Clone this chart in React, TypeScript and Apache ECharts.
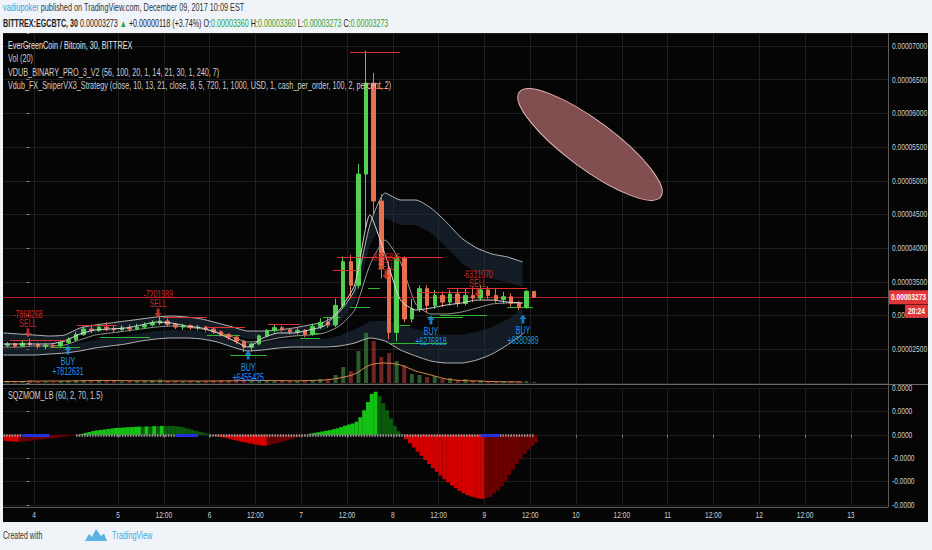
import React, { useEffect, useRef } from "react";
import * as echarts from "echarts";

// ---------------- header / titles ----------------
const headerAuthor = "vadiupoker";
const headerPublished = " published on TradingView.com, December 09, 2017 10:09 EST";
const symbolTitle = "BITTREX:EGCBTC, 30";
const lastText = "0.00003273";
const changeText = "+0.00000118 (+3.74%)";
const ohlcLabels = ["O:", "H:", "L:", "C:"];
const ohlcValues = ["0.00003360", "0.00003360", "0.00003273", "0.00003273"];
const legendLines = [
  "EverGreenCoin / Bitcoin, 30, BITTREX",
  "Vol (20)",
  "VDUB_BINARY_PRO_3_V2 (56, 100, 20, 1, 14, 21, 30, 1, 240, 7)",
  "Vdub_FX_SniperVX3_Strategy (close, 10, 13, 21, close, 8, 5, 720, 1, 1000, USD, 1, cash_per_order, 100, 2, percent, 2)",
];
const momentumTitle = "SQZMOM_LB (60, 2, 70, 1.5)";
const footerText = "Created with";
const footerBrand = "TradingView";

// ---------------- price data (satoshi, 2h candles, hours from Dec 4 00:00) ----------------
const candleStartHour = -6;
const candleStepHours = 2;
// [open, close, low, high]
const candleOHLC = [
  [2560, 2580, 2530, 2610], [2580, 2550, 2520, 2600], [2550, 2590, 2530, 2640], [2590, 2570, 2540, 2660],
  [2570, 2540, 2510, 2590], [2540, 2560, 2500, 2590], [2560, 2550, 2520, 2580], [2550, 2600, 2530, 2620],
  [2600, 2640, 2580, 2680], [2640, 2720, 2620, 2760], [2720, 2800, 2700, 2850], [2800, 2780, 2740, 2870],
  [2780, 2830, 2760, 2880], [2830, 2810, 2770, 2900], [2810, 2790, 2750, 2850], [2790, 2820, 2760, 2860],
  [2820, 2800, 2760, 2870], [2800, 2830, 2780, 2880], [2830, 2860, 2800, 2900], [2860, 2890, 2840, 2930],
  [2890, 2920, 2860, 2990], [2920, 2870, 2840, 2960], [2870, 2830, 2800, 2890], [2830, 2850, 2790, 2880],
  [2850, 2820, 2790, 2870], [2820, 2830, 2780, 2860], [2830, 2800, 2760, 2850], [2800, 2760, 2730, 2820],
  [2760, 2720, 2690, 2780], [2720, 2680, 2640, 2740], [2680, 2620, 2580, 2700], [2620, 2530, 2460, 2640],
  [2530, 2580, 2470, 2600], [2580, 2700, 2560, 2720], [2700, 2780, 2680, 2800], [2780, 2820, 2750, 2860],
  [2820, 2790, 2760, 2850], [2790, 2760, 2720, 2820], [2760, 2780, 2720, 2820], [2780, 2720, 2680, 2800],
  [2720, 2840, 2700, 2880], [2840, 2900, 2800, 2960], [2900, 2860, 2820, 2980], [2860, 3150, 2830, 3250],
  [3150, 3800, 3100, 3880], [3800, 3450, 3250, 3900], [3450, 5100, 3400, 5250], [5100, 6450, 4300, 6930],
  [6450, 4700, 4500, 6600], [4700, 3700, 3550, 4800], [3700, 2750, 2650, 3800], [2750, 3850, 2620, 3900],
  [3850, 2950, 2900, 3880], [2950, 3100, 2900, 3250], [3100, 3400, 3050, 3450], [3400, 3150, 3050, 3450],
  [3150, 3300, 3100, 3380], [3300, 3200, 3130, 3360], [3200, 3320, 3150, 3380], [3320, 3180, 3130, 3400],
  [3180, 3300, 3150, 3400], [3300, 3260, 3200, 3420], [3260, 3380, 3230, 3450], [3380, 3300, 3250, 3430],
  [3300, 3240, 3190, 3400], [3240, 3280, 3180, 3350], [3280, 3180, 3130, 3330], [3180, 3120, 3080, 3220],
  [3120, 3360, 3100, 3380], [3360, 3273, 3273, 3360],
];
const volumes = [
  2, 1.5, 2, 3, 1.5, 1.5, 1, 2, 2.5, 3, 3, 2, 2, 2.5, 2, 1.5, 2, 2, 2.5, 3,
  3.5, 2, 2, 1.5, 2, 2, 2, 2.5, 3, 3, 4, 3, 3.5, 3, 2, 2, 2.5, 2, 2,
  2, 3, 4, 3, 8, 16, 12, 32, 50, 42, 26, 30, 22, 18, 9, 8, 6, 7, 4, 5,
  3, 4, 2.5, 3, 2, 2, 1.5, 2, 1.5, 2, 1,
];

// indicator lines, every 4 hours
const lineStartHour = -6;
const lineStepHours = 4;
const upperBand = [2742, 2727, 2712, 2697, 2712, 2816, 2860, 2890, 2920, 2949, 2979, 2994, 2979, 2949, 2890, 2831, 2771, 2771, 2786, 2816, 2860, 2905, 3053, 3380, 4344, 4819, 4715, 4715, 4596, 4389, 4151, 4003, 3914, 3870, 3795];
const upperBandInner = [2622, 2607, 2592, 2577, 2592, 2696, 2740, 2770, 2800, 2829, 2859, 2874, 2859, 2829, 2770, 2711, 2651, 2651, 2666, 2696, 2740, 2785, 2903, 3180, 4044, 4449, 4345, 4345, 4226, 4019, 3781, 3633, 3544, 3500, 3425];
const lowerBand = [2415, 2415, 2415, 2430, 2445, 2475, 2519, 2549, 2579, 2623, 2653, 2668, 2668, 2653, 2608, 2534, 2475, 2490, 2519, 2534, 2534, 2534, 2549, 2593, 2668, 2623, 2490, 2401, 2326, 2297, 2297, 2341, 2430, 2564, 2727];
const lowerBandInner = [2535, 2535, 2535, 2550, 2565, 2595, 2639, 2669, 2699, 2743, 2773, 2788, 2788, 2773, 2728, 2654, 2595, 2610, 2639, 2654, 2654, 2654, 2699, 2793, 2918, 2923, 2860, 2801, 2746, 2717, 2717, 2761, 2830, 2944, 3097];
const slowMA = [2534, 2534, 2549, 2549, 2564, 2638, 2712, 2742, 2771, 2801, 2831, 2846, 2831, 2801, 2757, 2683, 2608, 2623, 2668, 2697, 2712, 2742, 2846, 3083, 3750, 4120, 3795, 3172, 3024, 3024, 3053, 3113, 3172, 3187, 3187];
const fastMA = [2579, 2579, 2579, 2579, 2623, 2727, 2786, 2801, 2816, 2860, 2905, 2890, 2846, 2816, 2742, 2638, 2534, 2668, 2742, 2742, 2786, 2846, 3083, 3454, 4493, 3899, 3231, 3083, 3113, 3157, 3187, 3231, 3231, 3202, 3187];
const volumeMA = [1.5, 1.5, 1.8, 2, 2, 2.2, 2.5, 2.5, 2.3, 2.2, 2, 2, 2, 2, 2, 2.2, 2.5, 2.5, 2.4, 2.2, 2.5, 3, 5, 9, 18, 20, 18, 12, 8, 4, 2.5, 2, 1.5, 1.2, 1];

// strategy levels [startHour, endHour, price]
const resistanceLevels = [
  [-4.3, 10.6, 2638], [13.3, 23.7, 2860], [35.8, 47.3, 2979], [47.3, 57.3, 2831], [63.3, 71.7, 2875],
  [80.3, 86.6, 3677], [81.4, 109.1, 3870], [84.8, 97.9, 6916], [89.2, 94.7, 6377], [103, 116, 3350],
  [110.2, 131.2, 3410],
];
const supportLevels = [
  [6.2, 14, 2534], [19.3, 32.4, 2683], [47.3, 56, 2712], [53.4, 63, 2415], [71.7, 76.9, 2668],
  [74.3, 76.9, 2742], [77.7, 82.2, 2979], [84.8, 90, 3128], [89.5, 92.6, 3410], [95.3, 110.2, 2593],
  [97.9, 100.5, 2860], [105, 114.4, 2979], [108.4, 120.7, 3009], [126, 132.7, 3128],
];
// signals [hour, price, text]
const buySignals = [
  [10.9, 2490, "+7812631"], [58.1, 2415, "+6455425"], [106, 2935, "+6276818"], [130.1, 2950, "+6380989"],
];
const sellSignals = [
  [0.4, 2742, "-7868268"], [34.5, 3039, "-7201989"], [94.2, 3602, "-8255845"], [118.3, 3335, "-6331070"],
];
const lastPrice = 3273;
const countdown = "20:24";

// ---------------- squeeze momentum (hourly) ----------------
const momStartHour = -6;
const momentum = [
  -2.6, -2.8, -2.9, -3.0, -3.0, -2.9,
  -2.7, -2.5, -2.3, -2.1, -1.9, -1.7, -1.5, -1.3, -1.1, -0.9, -0.7, -0.5, -0.3, -0.1,
  0.4, 0.8, 1.2, 1.6, 1.9, 2.1, 2.3, 2.5, 2.7, 2.9, 3.0, 3.1, 3.2, 3.3, 3.4, 3.5, 3.5, 3.6, 3.6, 3.7,
  3.7, 3.8, 3.8, 3.8, 3.7, 3.6, 3.4, 3.0, 2.6, 2.1, 1.7, 1.3, 0.9, 0.5, 0.1,
  -0.4, -0.8, -1.1, -1.5, -1.9, -2.2, -2.6, -3.0, -3.3, -3.7, -4.0, -4.3, -4.6, -4.7, -4.4,
  -4.0, -3.6, -3.2, -2.8, -2.3, -1.8, -1.3, -0.9, -0.5, -0.2,
  0.5, 0.8, 1.1, 1.4, 1.7, 2.0, 2.4, 2.8, 3.3, 3.9, 4.4, 4.8, 5.6, 7.5, 10.5, 14.0, 17.5, 18.4, 16.5,
  13.5, 10.5, 7.0, 3.8, 1.5, 0.2,
  -1.8, -3.6, -5.4, -7.2, -9.0, -10.8, -12.5, -14.2, -15.8, -17.4, -19.0, -20.3, -21.6, -22.8, -24.0,
  -25.0, -25.8, -26.4, -26.8, -27.2, -27.4, -27.0, -26.6, -25.2, -23.8, -22.0, -19.8, -17.2, -14.8,
  -12.4, -10.2, -8.2, -6.4, -4.8, -3.4,
];
const squeezeOff = [[-6, -1], [13, 39], [48, 119], [124, 133]];
const squeezeOn = [[-1, 6], [39, 45], [119, 124]];

// ---------------- axes ----------------
const priceTicks = [2500, 3000, 3500, 4000, 4500, 5000, 5500, 6000, 6500, 7000];
const momTicks = [20, 10, 0, -10, -20, -30];
const momTickLabels = ["0.0000", "0.0000", "0.0000", "-0.0000", "-0.0000", "-0.0000"];
const timeTickHours = [2, 24, 36, 48, 60, 72, 84, 96, 108, 120, 132, 144, 156, 168, 180, 192, 204, 216];
const timeTickLabels = ["4", "5", "12:00", "6", "12:00", "7", "12:00", "8", "12:00", "9", "12:00", "10", "12:00", "11", "12:00", "12", "12:00", "13"];

const X_MIN = -6.13;
const X_MAX = 225.74;
const PRICE_MIN = 2000;
const PRICE_MAX = 7193;

const FONT = "'Liberation Sans', Arial, sans-serif";
const SX = 0.7;
const UP = "#52d052";
const DOWN = "#e8704f";
const GRIDLINE = "#1e1e1e";
const BUY_ARROW = "path://M5,0L10,5L7,5L7,10L3,10L3,5L0,5Z";
const SELL_ARROW = "path://M3,0L7,0L7,5L10,5L5,10L0,5L3,5Z";

const fmtPrice = (v: number) => (v / 1e8).toFixed(8);

function text(x: number, y: number, s: string, fill: string, size = 10, align = "left", extra: any = {}, z = 100, sx = SX) {
  return {
    type: "text",
    x,
    y,
    scaleX: sx,
    silent: true,
    z,
    style: {
      text: s,
      fill,
      fontSize: size,
      fontFamily: FONT,
      textAlign: align,
      textVerticalAlign: "middle",
      ...extra,
    },
  };
}

export default function App() {
  const ref = useRef<HTMLDivElement>(null);

  useEffect(() => {
    const el = ref.current;
    if (!el) return;
    const chart = echarts.init(el, null, { renderer: "svg" });

    const candleHour = (i: number) => candleStartHour + i * candleStepHours + candleStepHours / 2;
    const lineHour = (i: number) => lineStartHour + i * lineStepHours;
    const pairs = (arr: number[]) => arr.map((v, i) => [lineHour(i), v]);

    const candleData = candleOHLC.map((c, i) => [candleHour(i), c[0], c[1], c[2], c[3]]);
    const volData = volumes.map((v, i) => ({
      value: [candleHour(i), v],
      itemStyle: { color: candleOHLC[i][1] >= candleOHLC[i][0] ? "rgba(70,150,70,0.6)" : "rgba(170,55,55,0.65)" },
    }));
    const momData = momentum.map((v, i) => {
      const p = i > 0 ? momentum[i - 1] : 0;
      let color;
      if (v >= 0) color = v > p ? "#14c214" : "#0b5a0b";
      else color = v < p ? "#d40000" : "#6a0000";
      return { value: [momStartHour + i + 0.5, v], itemStyle: { color } };
    });

    const bandFill = "rgba(34,50,68,0.5)";
    const bandSeries = (outer: number[], inner: number[]) => ({
      type: "custom", xAxisIndex: 0, yAxisIndex: 0, silent: true, z: 1, clip: true,
      data: outer.map((v, i) => [lineHour(i), v, inner[i]]),
      encode: { x: 0, y: [1, 2] },
      renderItem: (params: any, api: any) => {
        if (params.dataIndex !== 0) return null;
        const a = outer.map((v, i) => api.coord([lineHour(i), v]));
        const b = inner.map((v, i) => api.coord([lineHour(i), v])).reverse();
        return { type: "polygon", shape: { points: a.concat(b) }, style: { fill: bandFill } };
      },
    });
    const levelSeries = (levels: number[][], color: string, z: number) => ({
      type: "custom", xAxisIndex: 0, yAxisIndex: 0, silent: true, z, clip: true,
      data: levels,
      encode: { x: [0, 1], y: 2 },
      renderItem: (params: any, api: any) => {
        const p1 = api.coord([api.value(0), api.value(2)]);
        const p2 = api.coord([api.value(1), api.value(2)]);
        const y = Math.round(p1[1]) + 0.5;
        return { type: "line", shape: { x1: p1[0], y1: y, x2: p2[0], y2: y }, style: { stroke: color, lineWidth: 1 } };
      },
    });

    const option: any = {
      animation: false,
      backgroundColor: "transparent",
      grid: [
        { left: 3, right: 44, top: 33, height: 350, outerBoundsMode: "none" },
        { left: 3, right: 44, top: 388, height: 117, outerBoundsMode: "none" },
      ],
      xAxis: [
        {
          type: "value", gridIndex: 0, min: X_MIN, max: X_MAX,
          axisLine: { show: false }, axisTick: { show: false, customValues: timeTickHours },
          axisLabel: { show: false, customValues: timeTickHours },
          splitLine: { show: true, lineStyle: { color: GRIDLINE, width: 1 } },
        },
        {
          type: "value", gridIndex: 1, min: X_MIN, max: X_MAX,
          axisLine: { show: false },
          axisTick: { show: true, length: 3, lineStyle: { color: "#777" }, customValues: timeTickHours },
          axisLabel: { show: false, customValues: timeTickHours },
          splitLine: { show: true, lineStyle: { color: GRIDLINE, width: 1 } },
        },
      ],
      yAxis: [
        {
          type: "value", gridIndex: 0, position: "right", min: PRICE_MIN, max: PRICE_MAX, interval: 500,
          axisLine: { show: false }, axisTick: { show: true, length: 3, lineStyle: { color: "#888" } },
          axisLabel: { show: false }, splitLine: { show: true, lineStyle: { color: GRIDLINE, width: 1 } },
        },
        { type: "value", gridIndex: 0, min: 0, max: 350, show: false, splitLine: { show: false } },
        {
          type: "value", gridIndex: 1, position: "right", min: -30, max: 20, interval: 10,
          axisLine: { show: false }, axisTick: { show: true, length: 3, lineStyle: { color: "#888" } },
          axisLabel: { show: false }, splitLine: { show: true, lineStyle: { color: GRIDLINE, width: 1 } },
        },
      ],
      series: [
        bandSeries(upperBand, upperBandInner),
        bandSeries(lowerBand, lowerBandInner),
        // band lines and MAs
        { type: "line", xAxisIndex: 0, yAxisIndex: 0, data: pairs(upperBand), symbol: "none", smooth: 0.2, lineStyle: { color: "#b8b8b8", width: 1 }, silent: true, z: 2 },
        { type: "line", xAxisIndex: 0, yAxisIndex: 0, data: pairs(lowerBand), symbol: "none", smooth: 0.2, lineStyle: { color: "#b8b8b8", width: 1 }, silent: true, z: 2 },
        { type: "line", xAxisIndex: 0, yAxisIndex: 0, data: pairs(slowMA), symbol: "none", smooth: 0.2, lineStyle: { color: "#9a9a9a", width: 1 }, silent: true, z: 2 },
        { type: "line", xAxisIndex: 0, yAxisIndex: 0, data: pairs(fastMA), symbol: "none", smooth: 0.2, lineStyle: { color: "#d8d8d8", width: 1 }, silent: true, z: 6 },
        // volume
        { type: "bar", xAxisIndex: 0, yAxisIndex: 1, data: volData, barWidth: 4, silent: true, z: 2 },
        { type: "line", xAxisIndex: 0, yAxisIndex: 1, data: pairs(volumeMA), symbol: "none", smooth: 0.3, lineStyle: { color: "#d9874a", width: 1 }, silent: true, z: 3 },
        // levels
        levelSeries(resistanceLevels, "#e0302f", 7),
        levelSeries(supportLevels, "#2fb82f", 4),
        // candles
        {
          type: "candlestick", xAxisIndex: 0, yAxisIndex: 0, data: candleData,
          encode: { x: 0, y: [1, 2, 3, 4] }, barWidth: 4, silent: true, z: 5,
          itemStyle: { color: UP, color0: DOWN, borderColor: UP, borderColor0: DOWN, borderWidth: 1 },
          markLine: {
            silent: true, symbol: "none", label: { show: false },
            lineStyle: { color: "#b71c1c", width: 1, type: "solid" },
            data: [{ yAxis: lastPrice }],
          },
        },
        // signals
        {
          type: "scatter", xAxisIndex: 0, yAxisIndex: 0, silent: true, z: 10,
          data: buySignals.map((s) => [s[0], s[1]]), symbol: BUY_ARROW, symbolSize: [7, 9],
          itemStyle: { color: "#2196f3" },
        },
        {
          type: "scatter", xAxisIndex: 0, yAxisIndex: 0, silent: true, z: 10,
          data: sellSignals.map((s) => [s[0], s[1]]), symbol: SELL_ARROW, symbolSize: [7, 9],
          itemStyle: { color: "#e53935" },
        },
        // momentum histogram
        { type: "bar", xAxisIndex: 1, yAxisIndex: 2, data: momData, barWidth: 4, silent: true, z: 2 },
        {
          type: "lines", coordinateSystem: "cartesian2d", xAxisIndex: 1, yAxisIndex: 2, silent: true, z: 4,
          data: squeezeOff.map(([a, b]) => ({ coords: [[a, 0], [b, 0]] })),
          lineStyle: { color: "#9a9a9a", width: 2.5, type: [1.5, 1.2], opacity: 1 },
        },
        {
          type: "lines", coordinateSystem: "cartesian2d", xAxisIndex: 1, yAxisIndex: 2, silent: true, z: 4,
          data: squeezeOn.map(([a, b]) => ({ coords: [[a, 0], [b, 0]] })),
          lineStyle: { color: "#2430e0", width: 3, opacity: 1 },
        },
      ],
    };
    chart.setOption(option);

    const xP = (t: number) => chart.convertToPixel({ xAxisIndex: 0 }, t) as number;
    const yP = (v: number) => chart.convertToPixel({ yAxisIndex: 0 }, v) as number;
    const yM = (v: number) => chart.convertToPixel({ yAxisIndex: 2 }, v) as number;

    const g: any[] = [];
    // header
    g.push({
      type: "text", x: 3, y: 8, scaleX: 0.73, silent: true, z: 100,
      style: {
        text: `{u|${headerAuthor}}{n|${headerPublished}}`,
        fontSize: 10, fontFamily: FONT, textVerticalAlign: "middle",
        rich: { u: { fill: "#3d9be0", fontSize: 10, fontFamily: FONT }, n: { fill: "#333333", fontSize: 10, fontFamily: FONT } },
      },
    });
    const ohlcRich = ohlcLabels.map((l, i) => `{n| ${l}}{g|${ohlcValues[i]}}`).join("");
    g.push({
      type: "text", x: 3, y: 24, scaleX: 0.715, silent: true, z: 100,
      style: {
        text: `{t|${symbolTitle}}{n| ${lastText} }{g|▲}{n| ${changeText}}${ohlcRich}`,
        fontSize: 10, fontFamily: FONT, textVerticalAlign: "middle",
        rich: {
          t: { fill: "#222222", fontSize: 10, fontFamily: FONT, fontWeight: "bold" },
          n: { fill: "#222222", fontSize: 10, fontFamily: FONT },
          g: { fill: "#2ea02e", fontSize: 10, fontFamily: FONT },
        },
      },
    });
    // legends
    legendLines.forEach((s, i) => g.push(text(8, 45.5 + i * 13.5, s, i === 0 ? "#e6e6e6" : "#cfcfcf", 10.5, "left", {}, 100, 0.69)));
    g.push(text(8, 396, momentumTitle, "#cfcfcf", 10.5, "left", {}, 100, 0.69));

    // axis labels
    priceTicks.forEach((v) => g.push(text(892, yP(v), fmtPrice(v), "#cfcfcf", 9.5)));
    momTicks.forEach((v, i) => g.push(text(892, yM(v), momTickLabels[i], "#cfcfcf", 9.5)));
    timeTickHours.forEach((t, i) => g.push(text(xP(t), 515.5, timeTickLabels[i], "#cfcfcf", 9.5, "center")));

    // signal texts
    buySignals.forEach(([t, v, s]: any) => {
      const x = xP(t), y = yP(v);
      g.push(text(x, y + 12, "BUY", "#2196f3", 10, "center"));
      g.push(text(x, y + 22, s, "#2196f3", 10, "center"));
    });
    sellSignals.forEach(([t, v, s]: any) => {
      const x = xP(t), y = yP(v);
      g.push(text(x, y - 9, "SELL", "#c62828", 10, "center"));
      g.push(text(x, y - 18, s, "#c62828", 10, "center"));
    });

    // frame lines
    g.push({ type: "line", silent: true, z: 90, shape: { x1: 3, y1: 384.5, x2: 928, y2: 384.5 }, style: { stroke: "#6a6a6a", lineWidth: 1 } });
    g.push({ type: "line", silent: true, z: 90, shape: { x1: 888.5, y1: 33, x2: 888.5, y2: 507 }, style: { stroke: "#5a5a5a", lineWidth: 1 } });
    g.push({ type: "line", silent: true, z: 90, shape: { x1: 3, y1: 507.5, x2: 888.5, y2: 507.5 }, style: { stroke: "#5a5a5a", lineWidth: 1 } });

    // last price label
    const py = yP(lastPrice);
    g.push({ type: "rect", silent: true, z: 101, shape: { x: 889, y: py - 7, width: 39, height: 14 }, style: { fill: "#e0363a" } });
    g.push(text(908.5, py, fmtPrice(lastPrice), "#ffffff", 9.5, "center", { fontWeight: "bold" }, 110));
    g.push({ type: "rect", silent: true, z: 101, shape: { x: 905, y: py + 7.5, width: 23, height: 13 }, style: { fill: "#e0363a" } });
    g.push(text(916.5, py + 14, countdown, "#ffffff", 9.5, "center", { fontWeight: "bold" }, 110));

    // drawing: ellipse
    g.push({
      type: "ellipse", silent: true, z: 60, x: 590, y: 144.5, rotation: -0.636,
      shape: { cx: 0, cy: 0, rx: 88, ry: 24 },
      style: { fill: "rgba(150,92,92,0.85)", stroke: "#e4b4b4", lineWidth: 1 },
    });

    // footer
    g.push(text(3, 536, footerText, "#333333", 10));
    g.push({
      type: "polygon", silent: true, z: 100,
      shape: { points: [[85, 541], [89, 534], [92, 537], [96, 529], [101, 536], [104, 533.5], [107, 541]] },
      style: { fill: "#5ab2e6" },
    });
    g.push(text(112, 536, footerBrand, "#4ba6e0", 10.5));

    chart.setOption({ graphic: g });

    return () => chart.dispose();
  }, []);

  return (
    <div style={{ position: "absolute", left: 0, top: 0, width: 932, height: 550, background: "#f0f3f8", overflow: "hidden" }}>
      <div style={{ position: "absolute", left: 3, top: 33, width: 925, height: 489, background: "#050505" }} />
      <div ref={ref} style={{ position: "absolute", left: 0, top: 0, width: 932, height: 550 }} />
    </div>
  );
}
